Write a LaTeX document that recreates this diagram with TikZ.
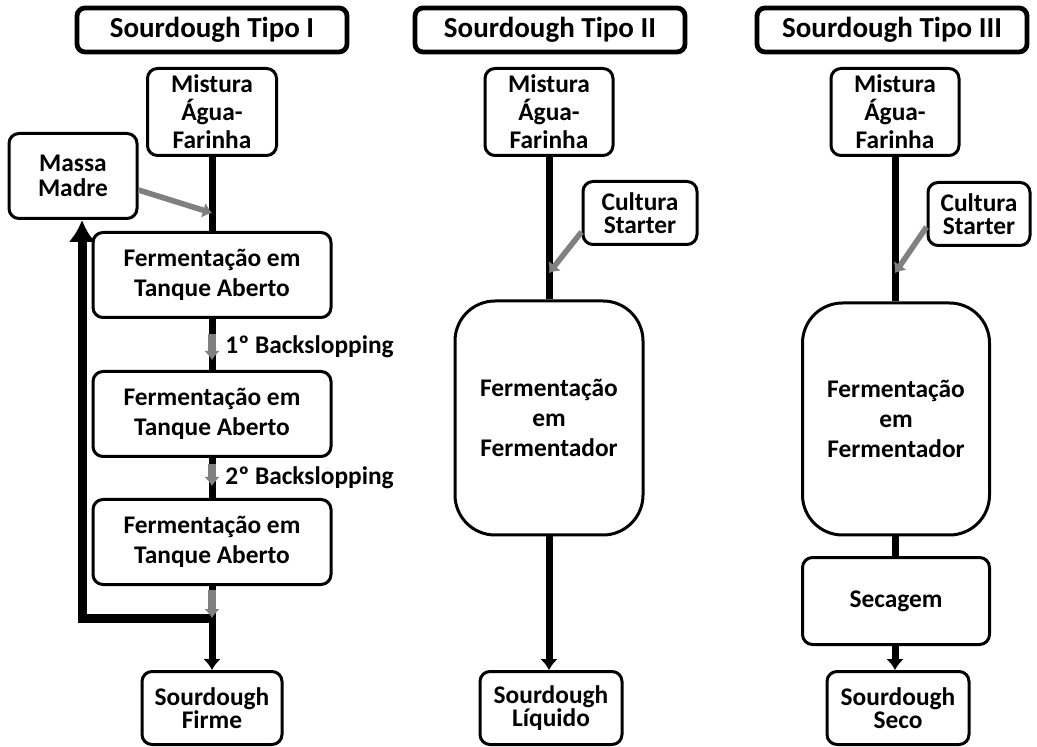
\documentclass[tikz,border=0pt]{standalone}
\usepackage{fontspec}
\setmainfont{Carlito}
\usetikzlibrary{positioning, arrows.meta}

\begin{document}
\begin{tikzpicture}[x=0.5pt,y=-0.5pt]
			\tikzstyle{header}=[draw=black,line width=2.4pt,rounded corners=4pt,minimum width=135pt,minimum height=22pt,inner sep=0pt,font=\fontsize{14.5}{17}\selectfont\bfseries]
			\tikzstyle{box}=[draw=black,line width=1.5pt,rounded corners=5pt,align=center,inner sep=0pt,font=\fontsize{12.7}{15}\selectfont\bfseries]
			\tikzstyle{tight}=[font=\fontsize{12.7}{11.8}\selectfont\bfseries]
			\tikzstyle{flow}=[line width=3.5pt]
			\tikzstyle{arrowed}=[-{Latex[length=5.5pt,width=9pt]}]
			\tikzstyle{feed}=[draw=gray,line width=2.8pt,-{Latex[length=4.5pt,width=8pt]}]
			\tikzstyle{inline}=[feed,line width=3.6pt]
			\tikzstyle{note}=[anchor=west,inner sep=0pt,font=\fontsize{12.7}{15}\selectfont\bfseries]
			\useasboundingbox (0,0) rectangle (1037,747);
			% Tipo I
			\node[header](h1) at (212,30) {Sourdough Tipo I};
			\node[box,minimum width=64.5pt,minimum height=43.5pt,font=\fontsize{12.7}{14}\selectfont\bfseries](m1) at (212,112) {Mistura\\Água-\\Farinha};
			\node[box,minimum width=64pt,minimum height=42.5pt,font=\fontsize{12.7}{12.5}\selectfont\bfseries](mm) at (73,176) {Massa\\Madre};
			\node[box,minimum width=119pt,minimum height=42.5pt](f1) at (212,275) {Fermentação em\\Tanque Aberto};
			\node[box,minimum width=119pt,minimum height=42.5pt](f2) at (212,414) {Fermentação em\\Tanque Aberto};
			\node[box,minimum width=119pt,minimum height=42.5pt](f3) at (212,542) {Fermentação em\\Tanque Aberto};
			\node[box,tight,minimum width=70pt,minimum height=36.5pt](s1) at (212,708) {Sourdough\\Firme};
			\node[note](b1) at (225,347) {1º Backslopping};
			\node[note](b2) at (225,478) {2º Backslopping};
			\coordinate (j1) at (212,213);
			\coordinate (k1) at (212,618);
			\coordinate (k2) at (82,618);
			\draw[flow] (m1) -- (f1);
			\draw[flow] (f1) -- (f2);
			\draw[flow] (f2) -- (f3);
			\draw[flow] (f3) -- (k1);
			\draw[flow,arrowed] (k1) -- (s1);
			\draw[line width=4.5pt,-{Latex[length=11pt,width=13.5pt]}] (k1) -- (k2) -- (k2 |- mm.south);
			\draw[feed] ([yshift=-7pt]mm.east) -- (j1);
			\draw[inline] ([yshift=-7.5pt]f1.south) -- ([yshift=5pt]f2.north);
			\draw[inline] ([yshift=-3pt]f2.south) -- ([yshift=6pt]f3.north);
			\draw[inline] ([yshift=-2pt]f3.south) -- (k1);
			% Tipo II
			\node[header](h2) at (550,30) {Sourdough Tipo II};
			\node[box,minimum width=64pt,minimum height=43.5pt,font=\fontsize{12.7}{14}\selectfont\bfseries](m2) at (549,112) {Mistura\\Água-\\Farinha};
			\node[box,tight,minimum width=57pt,minimum height=31.5pt](c2) at (640,213) {Cultura\\Starter};
			\node[box,rounded corners=20pt,minimum width=94pt,minimum height=117pt](f4) at (549,418) {Fermentação\\em\\Fermentador};
			\node[box,tight,minimum width=71pt,minimum height=36.5pt](s2) at (551,708) {Sourdough\\Líquido};
			\coordinate (j2) at (549,273);
			\draw[flow] (m2) -- (f4);
			\draw[flow,arrowed] (f4) -- (f4 |- s2.north);
			\draw[feed] ([yshift=-9.5pt]c2.west) -- (j2);
			% Tipo III
			\node[header](h3) at (892,30) {Sourdough Tipo III};
			\node[box,minimum width=64pt,minimum height=43.5pt,font=\fontsize{12.7}{14}\selectfont\bfseries](m3) at (895,112) {Mistura\\Água-\\Farinha};
			\node[box,tight,minimum width=51pt,minimum height=31.5pt](c3) at (979,214) {Cultura\\Starter};
			\node[box,rounded corners=20pt,minimum width=93.5pt,minimum height=116pt](f5) at (896,419) {Fermentação\\em\\Fermentador};
			\node[box,minimum width=93.5pt,minimum height=43.5pt](sec) at (896,601) {Secagem};
			\node[box,tight,minimum width=71pt,minimum height=36.5pt](s3) at (898,708) {Sourdough\\Seco};
			\coordinate (j3) at (895,273);
			\draw[flow] (m3) -- (m3 |- f5.north);
			\draw[flow] (m3 |- f5.south) -- (m3 |- sec.north);
			\draw[flow,arrowed] (m3 |- sec.south) -- (m3 |- s3.north);
			\draw[feed] ([yshift=-6.5pt]c3.west) -- (j3);
		\end{tikzpicture}
\end{document}
